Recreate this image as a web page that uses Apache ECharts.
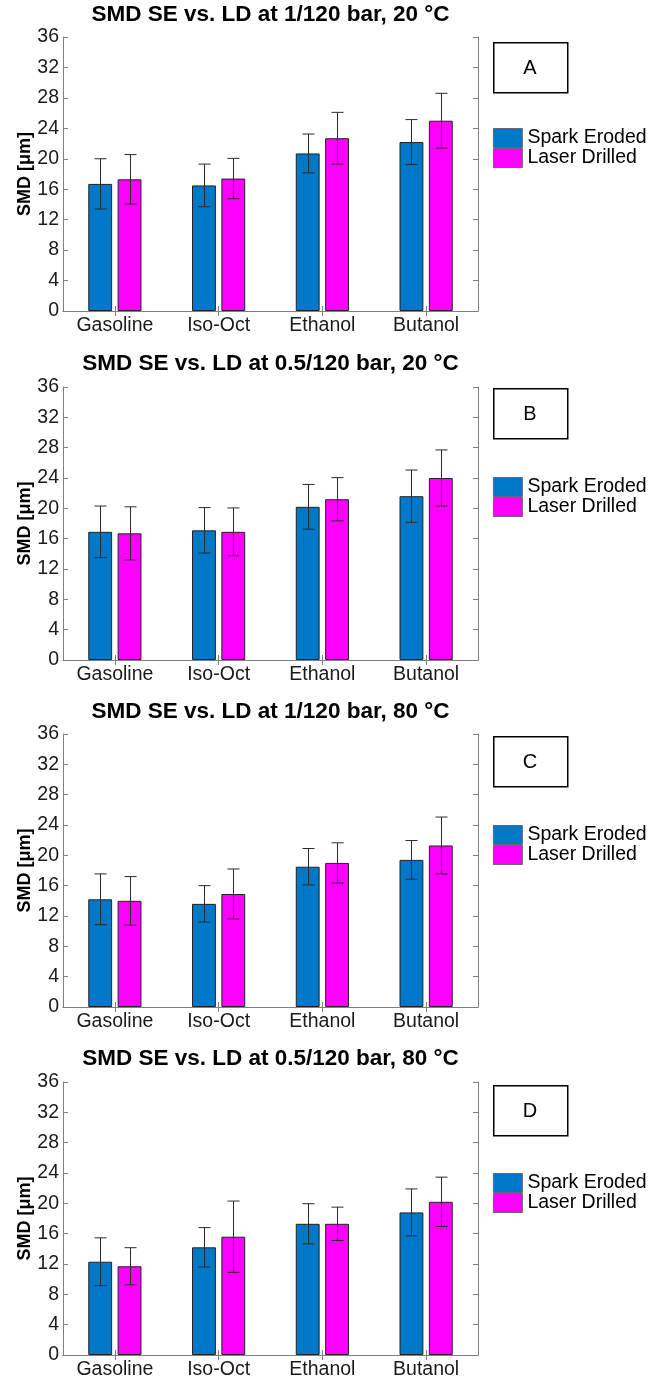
<!DOCTYPE html>
<html>
<head>
<meta charset="utf-8">
<script src="https://cdn.jsdelivr.net/npm/echarts@6/dist/echarts.min.js"></script>
<style>
html,body{margin:0;padding:0;background:#fff;}
#chart{width:649px;height:1380px;}
</style>
</head>
<body>
<div id="chart"></div>
<script>
// ---------- data ----------
const categories = ['Gasoline', 'Iso-Oct', 'Ethanol', 'Butanol'];
const seriesNames = ['Spark Eroded', 'Laser Drilled'];
const panelTitles = [
  'SMD SE vs. LD at 1/120 bar, 20 °C',
  'SMD SE vs. LD at 0.5/120 bar, 20 °C',
  'SMD SE vs. LD at 1/120 bar, 80 °C',
  'SMD SE vs. LD at 0.5/120 bar, 80 °C'
];
const panelLetters = ['A', 'B', 'C', 'D'];
const yAxisName = 'SMD [μm]';
const yMin = 0, yMax = 36, yStep = 4;

// Panel A
const seMeanA = [16.7, 16.5, 20.7, 22.2];
const seErrA  = [3.3, 2.8, 2.55, 2.95];
const ldMeanA = [17.3, 17.4, 22.7, 25.0];
const ldErrA  = [3.25, 2.65, 3.4, 3.6];
// Panel B
const seMeanB = [16.9, 17.1, 20.2, 21.6];
const seErrB  = [3.4, 3.0, 2.95, 3.45];
const ldMeanB = [16.7, 16.9, 21.2, 24.0];
const ldErrB  = [3.5, 3.15, 2.85, 3.7];
// Panel C
const seMeanC = [14.2, 13.6, 18.5, 19.4];
const seErrC  = [3.35, 2.4, 2.4, 2.55];
const ldMeanC = [14.0, 14.9, 19.0, 21.3];
const ldErrC  = [3.2, 3.3, 2.65, 3.75];
// Panel D
const seMeanD = [12.3, 14.2, 17.3, 18.8];
const seErrD  = [3.15, 2.6, 2.65, 3.1];
const ldMeanD = [11.7, 15.6, 17.3, 20.2];
const ldErrD  = [2.45, 4.7, 2.2, 3.25];

const panels = [
  {se: seMeanA, seE: seErrA, ld: ldMeanA, ldE: ldErrA},
  {se: seMeanB, seE: seErrB, ld: ldMeanB, ldE: ldErrB},
  {se: seMeanC, seE: seErrC, ld: ldMeanC, ldE: ldErrC},
  {se: seMeanD, seE: seErrD, ld: ldMeanD, ldE: ldErrD}
];

// ---------- layout / style ----------
const FONT = '"Liberation Sans", Arial, Helvetica, sans-serif';
const gridLeft = 63, gridWidth = 415;
const gridTops = [37, 387, 734, 1082];
const gridHeights = [274, 273, 273, 273];
const titleTops = [3, 352, 700, 1047];
const boxTops = [42, 388, 736, 1085];
const legendTops = [128, 477, 825, 1173];
const colors = ['#0078C8', '#FF00FF'];
const frameColor = '#808080';
const textColor = '#1a1a1a';
const BAR_W = 0.23, BAR_GAP = 0.23;

const option = {
  animation: false,
  backgroundColor: '#fff',
  textStyle: {fontFamily: FONT},
  title: [], grid: [], xAxis: [], yAxis: [], series: [], legend: [], graphic: []
};

function errRender(sign) {
  return function (params, api) {
    const x = api.value(0), m = api.value(1), e = api.value(2);
    const band = api.size([1, 0])[0];
    const off = sign * band * BAR_W * (1 + BAR_GAP) / 2;
    const top = api.coord([x, m + e]);
    const bot = api.coord([x, m - e]);
    const cx = Math.round(top[0] + off) + 0.5;
    const cap = 6;
    const st = {stroke: '#2a2a2a', lineWidth: 1};
    return {
      type: 'group',
      children: [
        {type: 'line', shape: {x1: cx, y1: top[1], x2: cx, y2: bot[1]}, style: st},
        {type: 'line', shape: {x1: cx - cap, y1: top[1], x2: cx + cap, y2: top[1]}, style: st},
        {type: 'line', shape: {x1: cx - cap, y1: bot[1], x2: cx + cap, y2: bot[1]}, style: st}
      ]
    };
  };
}

panels.forEach((p, i) => {
  option.title.push({
    text: panelTitles[i],
    left: gridLeft + gridWidth / 2,
    top: titleTops[i],
    textAlign: 'center',
    padding: 0,
    textStyle: {fontFamily: FONT, fontSize: 22.5, fontWeight: 'bold', color: '#000'}
  });
  option.grid.push({left: gridLeft, top: gridTops[i], width: gridWidth, height: gridHeights[i], containLabel: false});
  const xb = option.xAxis.length;
  option.xAxis.push({
    type: 'category', gridIndex: i, data: categories, position: 'bottom',
    axisLine: {show: true, lineStyle: {color: frameColor, width: 1}},
    axisTick: {show: true, inside: true, alignWithLabel: true, length: 5, lineStyle: {color: frameColor}},
    axisLabel: {fontFamily: FONT, fontSize: 19.5, color: textColor, margin: 5},
    splitLine: {show: false}
  });
  option.xAxis.push({
    type: 'category', gridIndex: i, data: categories, position: 'top',
    axisLine: {show: true, lineStyle: {color: frameColor, width: 1}},
    axisTick: {show: true, inside: true, alignWithLabel: true, length: 5, lineStyle: {color: frameColor}},
    axisLabel: {show: false}, splitLine: {show: false}
  });
  const yb = option.yAxis.length;
  option.yAxis.push({
    type: 'value', gridIndex: i, min: yMin, max: yMax, interval: yStep, position: 'left',
    name: yAxisName, nameLocation: 'middle', nameGap: 29, nameMoveOverlap: false,
    nameTextStyle: {fontFamily: FONT, fontSize: 18, fontWeight: 'bold', color: '#000'},
    axisLine: {show: true, lineStyle: {color: frameColor, width: 1}},
    axisTick: {show: true, inside: true, length: 5, lineStyle: {color: frameColor}},
    axisLabel: {fontFamily: FONT, fontSize: 19.5, color: textColor, margin: 4},
    splitLine: {show: false}
  });
  option.yAxis.push({
    type: 'value', gridIndex: i, min: yMin, max: yMax, interval: yStep, position: 'right',
    axisLine: {show: true, lineStyle: {color: frameColor, width: 1}},
    axisTick: {show: true, inside: true, length: 5, lineStyle: {color: frameColor}},
    axisLabel: {show: false}, splitLine: {show: false}
  });
  const barCommon = {
    type: 'bar', xAxisIndex: xb, yAxisIndex: yb,
    barWidth: (BAR_W * 100) + '%', barGap: (BAR_GAP * 100) + '%'
  };
  option.series.push(Object.assign({}, barCommon, {
    name: seriesNames[0], data: p.se,
    itemStyle: {color: colors[0], borderColor: '#222', borderWidth: 1}
  }));
  option.series.push(Object.assign({}, barCommon, {
    name: seriesNames[1], data: p.ld,
    itemStyle: {color: colors[1], borderColor: '#222', borderWidth: 1}
  }));
  option.series.push({
    type: 'custom', xAxisIndex: xb, yAxisIndex: yb, z: 5,
    renderItem: errRender(-1),
    data: p.se.map((v, k) => [k, v, p.seE[k]])
  });
  option.series.push({
    type: 'custom', xAxisIndex: xb, yAxisIndex: yb, z: 5,
    renderItem: errRender(1),
    data: p.ld.map((v, k) => [k, v, p.ldE[k]])
  });
  option.legend.push({
    data: seriesNames, orient: 'vertical', left: 493, top: legendTops[i],
    padding: 0, itemGap: 0, itemWidth: 29, itemHeight: 19, icon: 'rect',
    selectedMode: false,
    itemStyle: {borderColor: '#555', borderWidth: 0.8},
    textStyle: {fontFamily: FONT, fontSize: 19.5, color: '#000'}
  });
  option.graphic.push({
    type: 'rect', left: 493, top: boxTops[i],
    shape: {width: 74, height: 50},
    style: {fill: '#fff', stroke: '#000', lineWidth: 1.5}
  });
  option.graphic.push({
    type: 'text', x: 530, y: boxTops[i] + 26,
    style: {text: panelLetters[i], fontFamily: FONT, fontSize: 20, fill: '#000', align: 'center', verticalAlign: 'middle'}
  });
});

const chart = echarts.init(document.getElementById('chart'), null, {renderer: 'canvas'});
chart.setOption(option);
</script>
</body>
</html>
